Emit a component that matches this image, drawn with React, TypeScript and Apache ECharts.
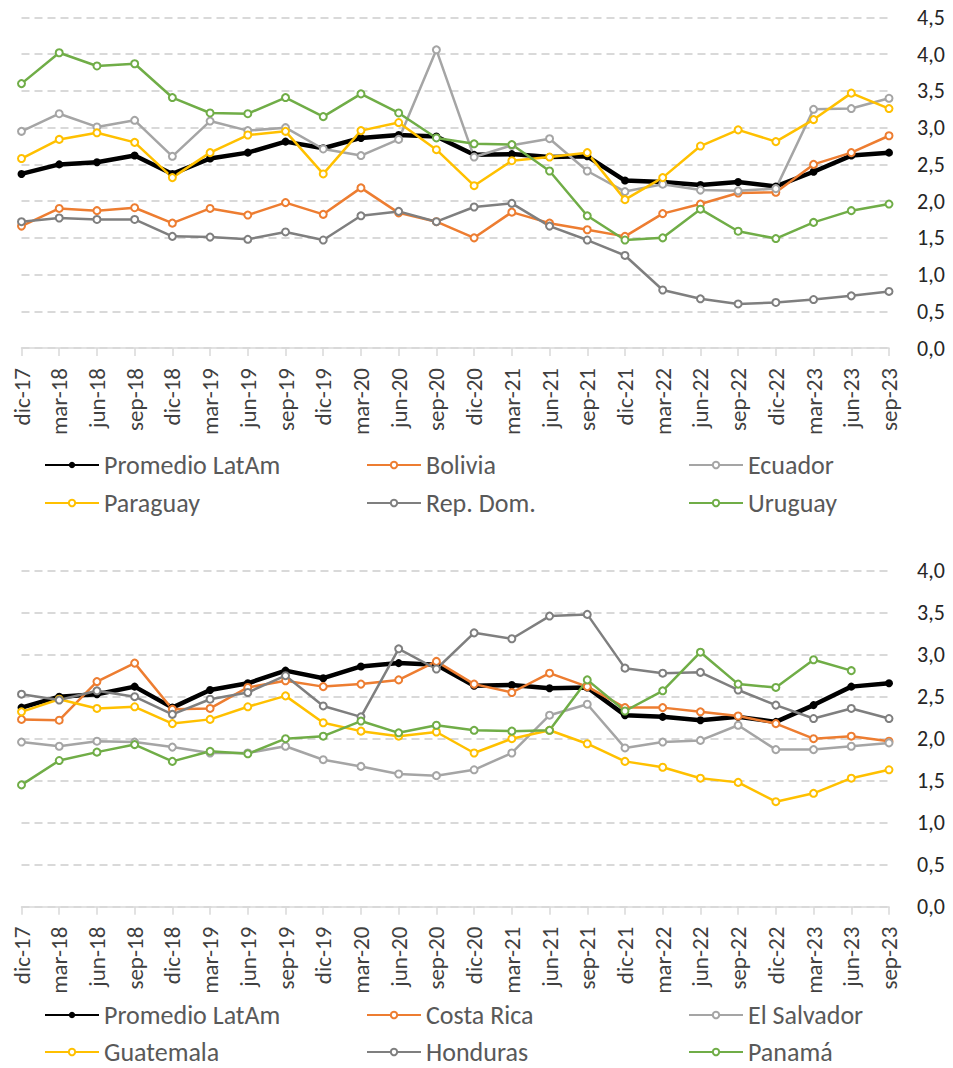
import React, { useEffect, useRef } from "react";
import * as echarts from "echarts";

const categories = ["dic-17","mar-18","jun-18","sep-18","dic-18","mar-19","jun-19","sep-19","dic-19","mar-20","jun-20","sep-20","dic-20","mar-21","jun-21","sep-21","dic-21","mar-22","jun-22","sep-22","dic-22","mar-23","jun-23","sep-23"];

const promedioLatAm = [2.37,2.50,2.53,2.62,2.37,2.58,2.66,2.81,2.72,2.86,2.90,2.88,2.63,2.64,2.60,2.61,2.28,2.26,2.22,2.26,2.20,2.40,2.62,2.66];

// top chart
const bolivia = [1.66,1.90,1.87,1.91,1.70,1.90,1.81,1.98,1.82,2.18,1.84,1.72,1.50,1.85,1.70,1.61,1.52,1.83,1.96,2.11,2.12,2.50,2.66,2.89];
const ecuador = [2.95,3.19,3.01,3.10,2.61,3.09,2.96,3.00,2.71,2.62,2.84,4.06,2.60,2.76,2.85,2.41,2.13,2.23,2.15,2.14,2.17,3.25,3.26,3.40];
const paraguay = [2.58,2.84,2.93,2.80,2.32,2.66,2.90,2.95,2.37,2.96,3.07,2.70,2.21,2.55,2.60,2.66,2.02,2.32,2.75,2.97,2.81,3.11,3.47,3.26];
const repDom = [1.72,1.77,1.75,1.75,1.52,1.51,1.48,1.58,1.47,1.80,1.86,1.72,1.92,1.97,1.66,1.47,1.26,0.79,0.67,0.60,0.62,0.66,0.71,0.77];
const uruguay = [3.60,4.02,3.84,3.87,3.41,3.20,3.19,3.41,3.15,3.46,3.20,2.86,2.78,2.77,2.41,1.80,1.47,1.50,1.89,1.59,1.49,1.71,1.87,1.96];

// bottom chart
const costaRica = [2.23,2.22,2.68,2.90,2.35,2.36,2.61,2.69,2.62,2.65,2.70,2.92,2.65,2.55,2.78,2.62,2.37,2.37,2.32,2.27,2.18,2.00,2.03,1.97];
const elSalvador = [1.96,1.91,1.97,1.96,1.90,1.83,1.83,1.91,1.75,1.67,1.58,1.56,1.63,1.83,2.28,2.41,1.89,1.96,1.98,2.16,1.87,1.87,1.91,1.95];
const guatemala = [2.32,2.47,2.36,2.38,2.18,2.23,2.38,2.51,2.19,2.09,2.03,2.08,1.83,2.00,2.10,1.94,1.73,1.66,1.53,1.48,1.25,1.35,1.53,1.63];
const honduras = [2.53,2.46,2.57,2.50,2.29,2.47,2.55,2.75,2.39,2.26,3.07,2.83,3.26,3.19,3.46,3.48,2.84,2.78,2.79,2.58,2.40,2.24,2.36,2.24];
const panama = [1.45,1.74,1.84,1.93,1.73,1.85,1.82,2.00,2.03,2.21,2.07,2.16,2.10,2.09,2.10,2.70,2.33,2.57,3.03,2.65,2.61,2.94,2.81,null];

const topYMax = 4.5;
const bottomYMax = 4.0;

const FONT = "Carlito, Lato, sans-serif";
const C = {
  black: "#000000",
  orange: "#ED7D31",
  lightGray: "#A5A5A5",
  yellow: "#FFC000",
  darkGray: "#7F7F7F",
  green: "#70AD47",
};

export default function App() {
  const ref = useRef<HTMLDivElement>(null);
  useEffect(() => {
    document.body.style.margin = "0";
    const chart = echarts.init(ref.current!, null, { renderer: "svg" });

    const mk = (name: string, data: any[], color: string, idx: number) => {
      const isAvg = color === C.black;
      return {
        name,
        type: "line",
        xAxisIndex: idx,
        yAxisIndex: idx,
        data,
        color,
        symbol: "circle",
        symbolSize: isAvg ? 8 : 7,
        showAllSymbol: true,
        lineStyle: { color, width: isAvg ? 4.5 : 2.5 },
        itemStyle: isAvg
          ? { color: "#000" }
          : { color: "#fff", borderColor: color, borderWidth: 2 },
        emphasis: { disabled: true },
      };
    };

    const grid = (top: number, height: number) => ({ left: 21.5, right: 64, top, height });
    const xAxis = (gi: number) => ({
      type: "category",
      gridIndex: gi,
      data: categories,
      boundaryGap: false,
      axisLine: { lineStyle: { color: "#D9D9D9", width: 1.5 } },
      axisTick: { show: true, length: 8, lineStyle: { color: "#D9D9D9", width: 1.5 } },
      axisLabel: {
        interval: 0,
        rotate: 90,
        fontFamily: FONT,
        fontSize: 23,
        color: "#404040",
        margin: 20,
      },
      splitLine: { show: false },
    });
    const yAxis = (gi: number, max: number) => ({
      type: "value",
      gridIndex: gi,
      position: "right",
      min: 0,
      max,
      interval: 0.5,
      axisLine: { show: false },
      axisTick: { show: false },
      axisLabel: {
        fontFamily: FONT,
        fontSize: 22,
        color: "#262626",
        margin: 28,
        formatter: (v: number) => v.toFixed(1).replace(".", ","),
      },
      splitLine: { lineStyle: { color: "#D9D9D9", width: 2, type: [8, 5] } },
    });
    const legend = (left: number, centerY: number, name: string) => ({
      orient: "horizontal",
      left,
      top: centerY - 13,
      padding: 0,
      data: [name],
      itemWidth: 54,
      itemHeight: 8,
      selectedMode: false,
      textStyle: { fontFamily: FONT, fontSize: 26, color: "#595959" },
    });

    const cols = [44, 366, 688];
    const topRows = [465, 503];
    const botRows = [1015, 1052];

    chart.setOption({
      animation: false,
      backgroundColor: "#ffffff",
      grid: [grid(17.5, 330.5), grid(570.7, 336)],
      xAxis: [xAxis(0), xAxis(1)],
      yAxis: [yAxis(0, topYMax), yAxis(1, bottomYMax)],
      legend: [
        legend(cols[0], topRows[0], "Promedio LatAm"),
        legend(cols[1], topRows[0], "Bolivia"),
        legend(cols[2], topRows[0], "Ecuador"),
        legend(cols[0], topRows[1], "Paraguay"),
        legend(cols[1], topRows[1], "Rep. Dom."),
        legend(cols[2], topRows[1], "Uruguay"),
        legend(cols[0], botRows[0], "Promedio LatAm"),
        legend(cols[1], botRows[0], "Costa Rica"),
        legend(cols[2], botRows[0], "El Salvador"),
        legend(cols[0], botRows[1], "Guatemala"),
        legend(cols[1], botRows[1], "Honduras"),
        legend(cols[2], botRows[1], "Panamá"),
      ],
      series: [
        mk("Promedio LatAm", promedioLatAm, C.black, 0),
        mk("Bolivia", bolivia, C.orange, 0),
        mk("Ecuador", ecuador, C.lightGray, 0),
        mk("Paraguay", paraguay, C.yellow, 0),
        mk("Rep. Dom.", repDom, C.darkGray, 0),
        mk("Uruguay", uruguay, C.green, 0),
        mk("Promedio LatAm", promedioLatAm, C.black, 1),
        mk("Costa Rica", costaRica, C.orange, 1),
        mk("El Salvador", elSalvador, C.lightGray, 1),
        mk("Guatemala", guatemala, C.yellow, 1),
        mk("Honduras", honduras, C.darkGray, 1),
        mk("Panamá", panama, C.green, 1),
      ],
    });
    return () => chart.dispose();
  }, []);
  return <div ref={ref} style={{ width: 953, height: 1068 }} />;
}
